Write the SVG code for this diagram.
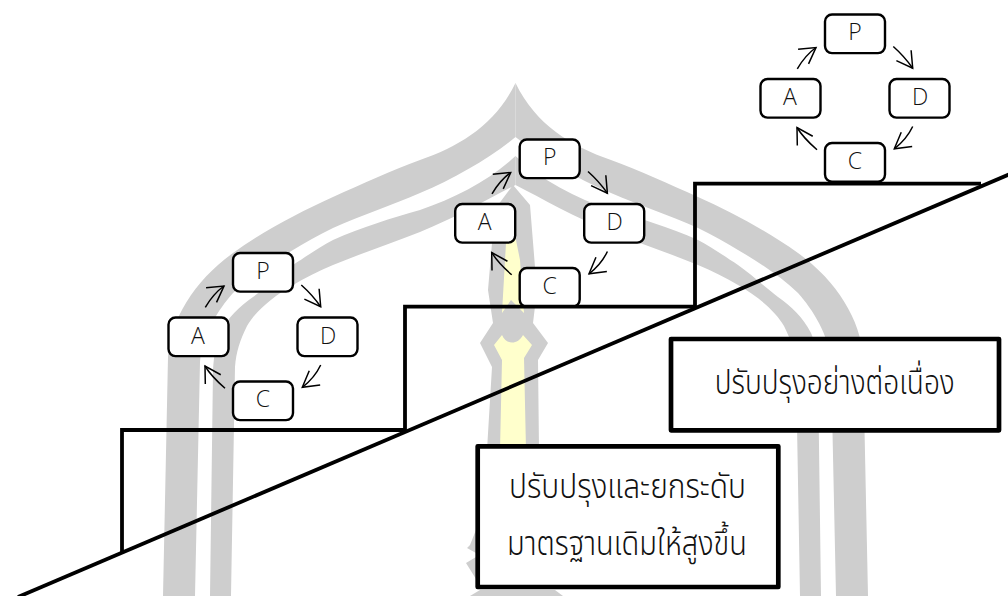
<svg xmlns="http://www.w3.org/2000/svg" xmlns:xlink="http://www.w3.org/1999/xlink" width="1008" height="596" viewBox="0 0 1008 596">
<style>
.bg{fill:#cecece}
.ye{fill:#ffffcc}
.node{fill:#fff;stroke:#000;stroke-width:2.4}
.box{fill:#fff;stroke:#000;stroke-width:4.7;stroke-linejoin:round}
.let{font-family:"Open Sans","Noto Sans",sans-serif;font-weight:300;font-size:23px;fill:#111;text-anchor:middle}
.th{font-family:"Noto Sans Thai","Noto Sans","DejaVu Sans",sans-serif;font-weight:300;font-size:34px;fill:#111;text-anchor:middle}
.arr{fill:none;stroke:#000;stroke-width:1.5;marker-end:url(#open)}
.stair{fill:none;stroke:#000;stroke-width:3.8;stroke-linejoin:miter}
</style>
<defs>
<marker id="open" markerUnits="userSpaceOnUse" markerWidth="40" markerHeight="40" refX="20" refY="20" orient="auto" overflow="visible"><path d="M4.4,11 L20,20 L4.4,29" fill="none" stroke="#000" stroke-width="1.5"/></marker>
<g id="arch">
<path class="bg" d="M163,596 L168,357 C170,320 195,280 233,253 C265,230 300,212 333,197 C362,184 392,170 420,160 C460,146 495,125 515.5,83 L515.5,137 C490,158 455,178 420,193 C392,205 362,215 333,228 C318,235 305,243 293,250 C272,262 250,277 233,293 C218,310 202,335 200,362 L195,596 Z"/>
<path class="bg" d="M210,596 L213,370 C214,355 216,342 220,333 C228,317 240,306 253,297 C265,288 280,274 293,265 C305,257 320,247 333,240 C362,227 392,218 420,210 C455,198 490,180 515.5,156 L515.5,185 C490,198 455,218 420,232 C392,243 362,253 333,265 C318,271 305,278 293,285 C272,297 255,312 247,326 C240,340 236,352 235,367 L231,596 Z"/>
</g>
</defs>
<g id="watermark">
<use href="#arch" xlink:href="#arch"/>
<use href="#arch" xlink:href="#arch" transform="translate(1031,0) scale(-1,1)"/>
<path class="bg" d="M513,185 L530,205 L535,267 L537,290 L533,323 L548,343 L538,360 L539,450 L487,450 L492,367 L480,343 L493,323 L488,290 L492,243 L498,205 Z"/>
<path class="ye" d="M513,225 L520,260 L524,313 L511,300 L502,313 L506,243 Z"/>
<path class="ye" d="M494,345 L502,335 C506,345 518,345 523,335 L532,345 L524,358 L526,450 L500,450 L502,360 Z"/>
<path class="bg" d="M476,530 L470,545 L467,548 L476,553 L476,557 L466,563 L476,579 Z"/>
<path class="bg" d="M470,596 L480,590 L555,590 L563,596 Z"/>
</g>
<g id="connectors">
<g id="arrows-1">
<path class="arr" d="M205.3,307.3 Q213.5,293.5 224,286"/>
<path class="arr" d="M301.3,285 Q312.5,295 320.7,306.7"/>
<path class="arr" d="M320.7,365 Q314.5,378 302.3,387.3"/>
<path class="arr" d="M225,388.3 Q211,376 205,366"/>
</g>
<g id="arrows-2" transform="translate(286.7,-113.5)">
<path class="arr" d="M205.3,307.3 Q213.5,293.5 224,286"/>
<path class="arr" d="M301.3,285 Q312.5,295 320.7,306.7"/>
<path class="arr" d="M320.7,365 Q314.5,378 302.3,387.3"/>
<path class="arr" d="M225,388.3 Q211,376 205,366"/>
</g>
<g id="arrows-3" transform="translate(592,-238.5)">
<path class="arr" d="M205.3,307.3 Q213.5,293.5 224,286"/>
<path class="arr" d="M301.3,285 Q312.5,295 320.7,306.7"/>
<path class="arr" d="M320.7,365 Q314.5,378 302.3,387.3"/>
<path class="arr" d="M225,388.3 Q211,376 205,366"/>
</g>
</g>
<g id="p1"><rect class="node" x="233" y="253" width="60" height="38.6" rx="7"/><text class="let" x="263" y="278.5">P</text></g>
<g id="a1"><rect class="node" x="168.5" y="317.5" width="60" height="38.6" rx="7"/><text class="let" x="198" y="343.5">A</text></g>
<g id="d1"><rect class="node" x="297.5" y="317.5" width="60" height="38.6" rx="7"/><text class="let" x="328" y="343.5">D</text></g>
<g id="c1"><rect class="node" x="233" y="381.5" width="60" height="38.6" rx="7"/><text class="let" x="263" y="407">C</text></g>
<g id="p2"><rect class="node" x="519.7" y="139.5" width="60" height="38.6" rx="7"/><text class="let" x="549.7" y="165">P</text></g>
<g id="a2"><rect class="node" x="455.2" y="204" width="60" height="38.6" rx="7"/><text class="let" x="484.7" y="230">A</text></g>
<g id="d2"><rect class="node" x="584.2" y="204" width="60" height="38.6" rx="7"/><text class="let" x="614.7" y="230">D</text></g>
<g id="c2"><rect class="node" x="519.7" y="268" width="60" height="38.6" rx="7"/><text class="let" x="549.7" y="293.5">C</text></g>
<g id="p3"><rect class="node" x="825" y="14.5" width="60" height="38.6" rx="7"/><text class="let" x="855" y="40">P</text></g>
<g id="a3"><rect class="node" x="760.5" y="79" width="60" height="38.6" rx="7"/><text class="let" x="790" y="105">A</text></g>
<g id="d3"><rect class="node" x="889.5" y="79" width="60" height="38.6" rx="7"/><text class="let" x="920" y="105">D</text></g>
<g id="c3"><rect class="node" x="825" y="143" width="60" height="38.6" rx="7"/><text class="let" x="855" y="168.5">C</text></g>
<g id="stairs">
<path class="stair" d="M122,552 V430 H405 V306.7 H695 V183.7 H981"/>
<path class="stair" d="M18,597 L1010,174"/>
</g>
<g id="box-continuous"><rect class="box" x="671" y="339" width="328" height="91.3"/><text class="th" x="834.7" y="394" textLength="240" lengthAdjust="spacingAndGlyphs">ปรับปรุงอย่างต่อเนื่อง</text></g>
<g id="box-raise"><rect class="box" x="477.7" y="446.3" width="300.6" height="140.7"/><text class="th" x="627.5" y="498" textLength="237" lengthAdjust="spacingAndGlyphs">ปรับปรุงและยกระดับ</text><text class="th" x="627" y="555" textLength="240" lengthAdjust="spacingAndGlyphs">มาตรฐานเดิมให้สูงขึ้น</text></g>
</svg>
